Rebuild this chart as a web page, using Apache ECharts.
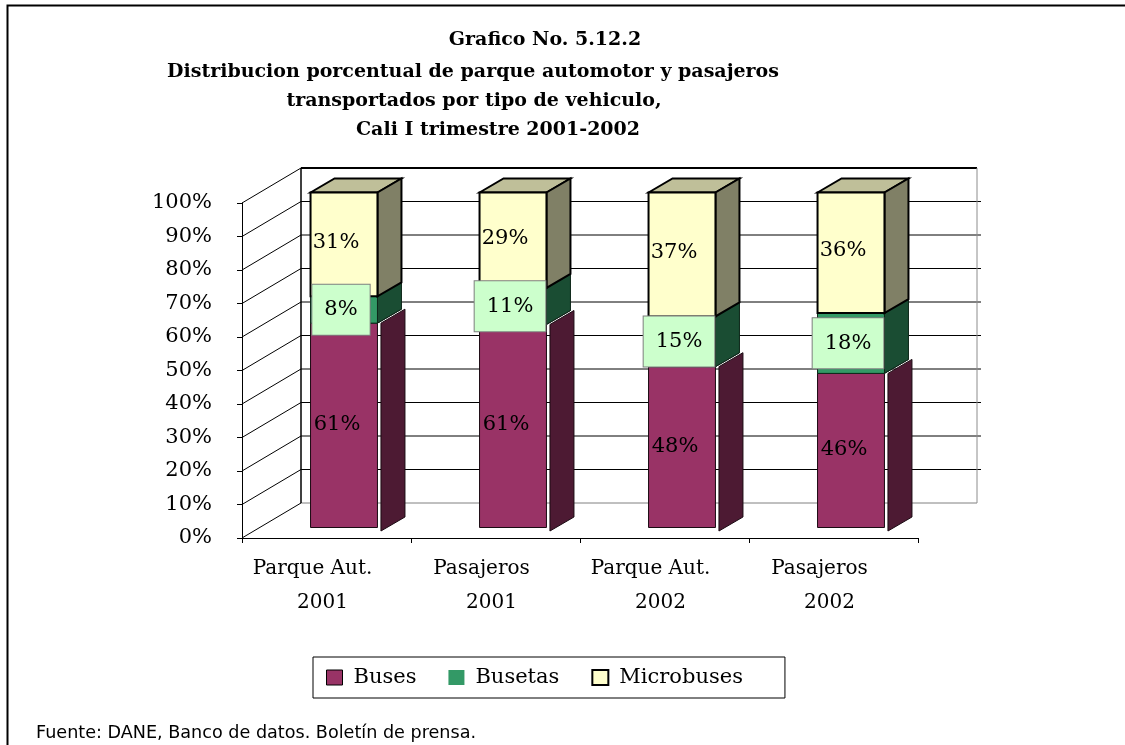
<!DOCTYPE html>
<html>
<head>
<meta charset="utf-8">
<script src="https://cdn.jsdelivr.net/npm/echarts@6/dist/echarts.min.js"></script>
<style>
  html, body { margin: 0; padding: 0; background: #ffffff; }
  #chart { width: 1125px; height: 745px; }
</style>
</head>
<body>
<div id="chart"></div>
<script>
// Category names (two lines each) and stacked shares per vehicle type, in percent
const categoryTop    = ['Parque Aut.', 'Pasajeros', 'Parque Aut.', 'Pasajeros'];
const categoryBottom = ['2001', '2001', '2002', '2002'];
const categories = categoryTop.map((t, i) => t + '\n' + categoryBottom[i]);
const buses      = [61, 60.6, 48, 46];
const busetas    = [8, 10.9, 15, 18];
const microbuses = [31, 28.5, 37, 36];
const seriesNames = ['Buses', 'Busetas', 'Microbuses'];
const pctTicks = [0, 10, 20, 30, 40, 50, 60, 70, 80, 90, 100];
const titleLines = [
  'Grafico No. 5.12.2',
  'Distribucion porcentual de parque automotor y pasajeros',
  'transportados por tipo de vehiculo,',
  'Cali I trimestre 2001-2002'
];
const sourceNote = 'Fuente: DANE, Banco de datos. Boletín de prensa.';

// Oblique projection used for the pseudo-3D box
const SERIF = '"DejaVu Serif", serif';
const WALL = [59, -35];           // floor / back wall depth
const BAR_DEPTH = [24, -14];      // depth of each column
const BAR_OFFSET = [17.5, -10.5]; // columns sit in the middle of the depth
const BAR_RATIO = 0.396;          // column width as share of the category band

const faces = {
  Buses:      { front: '#993366', side: '#4d1a33', top: '#b8668f', stroke: '#1a0a12', lw: 1, sideGap: 3.5,
                labelDx: -7, labelDy: -1, box: false },
  Busetas:    { front: '#339966', side: '#1a4d33', top: '#66b38c', stroke: '#0d2619', lw: 1, sideGap: 0,
                labelDx: -3, labelDy: 0, box: true },
  Microbuses: { front: '#ffffcc', side: '#808066', top: '#bfbf99', stroke: '#000000', lw: 2, sideGap: 0,
                labelDx: -8, labelDy: -2, box: false }
};

// Stack the segments: [category, bottom, top, value]
function stackData() {
  const lists = [buses, busetas, microbuses];
  const out = lists.map(() => []);
  categories.forEach((c, i) => {
    let base = 0;
    lists.forEach((arr, s) => {
      out[s].push([i, base, base + arr[i], arr[i]]);
      base += arr[i];
    });
  });
  return out;
}
const stacked = stackData();

function barRenderer(face) {
  return function (params, api) {
    const i = api.value(0), lo = api.value(1), hi = api.value(2), v = api.value(3);
    const p0 = api.coord([i, lo]);
    const p1 = api.coord([i, hi]);
    const w = api.size([1, 0])[0] * BAR_RATIO;
    const x = p0[0] - w / 2 + BAR_OFFSET[0];
    const yb = p0[1] + BAR_OFFSET[1];
    const yt = p1[1] + BAR_OFFSET[1];
    const dx = BAR_DEPTH[0], dy = BAR_DEPTH[1];
    const g = face.sideGap;
    const strokeStyle = { stroke: face.stroke, lineWidth: face.lw, lineJoin: 'miter' };
    const label = {
      type: 'text',
      z2: 100,
      style: Object.assign({
        text: Math.round(v) + '%',
        x: x + w / 2 + face.labelDx,
        y: (yt + yb) / 2 + face.labelDy,
        align: 'center',
        verticalAlign: 'middle',
        font: '21px ' + SERIF,
        fill: '#000000'
      }, face.box ? {
        backgroundColor: '#ccffcc',
        borderColor: '#7f7f7f',
        borderWidth: 1,
        padding: [15, 12, 14, 12]
      } : {})
    };
    return {
      type: 'group',
      children: [
        { type: 'polygon', shape: { points: [[x, yt], [x + dx, yt + dy], [x + w + dx, yt + dy], [x + w, yt]] },
          style: Object.assign({ fill: face.top }, strokeStyle) },
        { type: 'polygon', shape: { points: [[x + w + g, yt], [x + w + g + dx, yt + dy], [x + w + g + dx, yb + dy + g], [x + w + g, yb + g]] },
          style: Object.assign({ fill: face.side }, strokeStyle) },
        { type: 'rect', shape: { x: x, y: yt, width: w, height: yb - yt },
          style: Object.assign({ fill: face.front }, strokeStyle) },
        label
      ]
    };
  };
}

// Back wall grid lines and left wall diagonals, one per axis tick
function wallGridRenderer(params, api) {
  const v = api.value(1);
  const n = categories.length;
  const band = api.size([1, 0])[0];
  const xl = api.coord([0, v])[0] - band / 2;
  const xr = api.coord([n - 1, v])[0] + band / 2;
  const y = api.coord([0, v])[1];
  const isTop = v === pctTicks[pctTicks.length - 1];
  const isFloor = v === pctTicks[0];
  return {
    type: 'group',
    children: [
      { type: 'line', shape: { x1: xl + WALL[0], y1: y + WALL[1], x2: xr + WALL[0] + (isTop || isFloor ? 0 : 4), y2: y + WALL[1] },
        style: { stroke: isFloor ? '#808080' : '#000000', lineWidth: isTop ? 2 : 1 } },
      { type: 'line', shape: { x1: xl, y1: y, x2: xl + WALL[0], y2: y + WALL[1] },
        style: { stroke: '#000000', lineWidth: 1 } }
    ]
  };
}

// Vertical edges of the back wall
function wallFrameRenderer(params, api) {
  const n = categories.length;
  const band = api.size([1, 0])[0];
  const lo = pctTicks[0], hi = pctTicks[pctTicks.length - 1];
  const xl = api.coord([0, lo])[0] - band / 2 + WALL[0];
  const xr = api.coord([n - 1, lo])[0] + band / 2 + WALL[0];
  const yb = api.coord([0, lo])[1] + WALL[1];
  const yt = api.coord([0, hi])[1] + WALL[1];
  return {
    type: 'group',
    children: [
      { type: 'line', shape: { x1: xl, y1: yt, x2: xl, y2: yb }, style: { stroke: '#000000', lineWidth: 1.5 } },
      { type: 'line', shape: { x1: xr, y1: yt, x2: xr, y2: yb }, style: { stroke: '#8c8c8c', lineWidth: 1 } }
    ]
  };
}

const chart = echarts.init(document.getElementById('chart'), null, { renderer: 'canvas' });

const titleY = [40, 72, 101, 130];
const titleX = [545, 473, 474, 498];

const option = {
  backgroundColor: '#ffffff',
  animation: false,
  grid: { left: 242, right: 207, top: 203, bottom: 207, containLabel: false },
  xAxis: {
    type: 'category',
    data: categories,
    boundaryGap: true,
    axisLine: { show: true, lineStyle: { color: '#000000', width: 1 } },
    axisTick: { show: true, interval: 0, length: 5, lineStyle: { color: '#000000' } },
    axisLabel: {
      interval: 0, hideOverlap: false,
      color: '#000000', fontFamily: SERIF, fontSize: 20, lineHeight: 34, margin: 14,
      formatter: function (value) {
        const parts = value.split('\n');
        return '{a|' + parts[0] + '}\n{b|' + parts[1] + '}';
      },
      rich: {
        a: { color: '#000000', fontFamily: SERIF, fontSize: 20, lineHeight: 34, padding: [0, 28, 0, 0] },
        b: { color: '#000000', fontFamily: SERIF, fontSize: 20, lineHeight: 34, padding: [0, 8, 0, 0] }
      }
    },
    splitLine: { show: false }
  },
  yAxis: {
    type: 'value',
    min: 0, max: 100, interval: 10,
    axisLine: { show: true, lineStyle: { color: '#000000', width: 1 } },
    axisTick: { show: true, length: 5, lineStyle: { color: '#000000' } },
    axisLabel: { formatter: '{value}%', color: '#000000', fontFamily: SERIF, fontSize: 21, margin: 30 },
    splitLine: { show: false }
  },
  legend: {
    left: 313, top: 657,
    orient: 'horizontal',
    padding: [10, 42, 10, 13],
    borderColor: '#000000', borderWidth: 1,
    itemWidth: 16, itemHeight: 15, itemGap: 32,
    selectedMode: false,
    textStyle: { fontFamily: SERIF, fontSize: 21, color: '#000000', padding: [0, 0, 0, 6] },
    data: [
      { name: seriesNames[0], icon: 'rect', itemStyle: { color: faces.Buses.front, borderColor: '#000000', borderWidth: 1 } },
      { name: seriesNames[1], icon: 'rect', itemStyle: { color: faces.Busetas.front, borderWidth: 0 } },
      { name: seriesNames[2], icon: 'rect', itemStyle: { color: faces.Microbuses.front, borderColor: '#000000', borderWidth: 2 } }
    ]
  },
  graphic: {
    elements: [
      { type: 'polyline', silent: true,
        shape: { points: [[7.5, 745], [7.5, 5.5], [1125, 5.5]] },
        style: { stroke: '#000000', lineWidth: 2, fill: null } }
    ].concat(titleLines.map((t, k) => ({
      type: 'text', silent: true,
      style: { text: t, x: titleX[k], y: titleY[k], align: 'center', verticalAlign: 'middle',
               textAlign: 'center', textVerticalAlign: 'middle',
               font: 'bold 19px ' + SERIF, fill: '#000000' }
    }))).concat([
      { type: 'text', silent: true,
        style: { text: sourceNote, x: 36, y: 733, align: 'left', verticalAlign: 'middle',
                 textAlign: 'left', textVerticalAlign: 'middle',
                 font: '17.6px "DejaVu Sans", sans-serif', fill: '#000000' } }
    ])
  },
  series: [
    { type: 'custom', name: '_wallgrid', z: 1, silent: true, clip: false,
      renderItem: wallGridRenderer, encode: { x: 0, y: 1 },
      data: pctTicks.map(v => [0, v]) },
    { type: 'custom', name: '_wallframe', z: 1, silent: true, clip: false,
      renderItem: wallFrameRenderer, encode: { x: 0, y: 1 },
      data: [[0, 0]] }
  ].concat(seriesNames.map((name, s) => ({
    type: 'custom',
    name: name,
    z: 3,
    clip: false,
    itemStyle: { color: faces[name].front },
    renderItem: barRenderer(faces[name]),
    encode: { x: 0, y: [1, 2] },
    data: stacked[s]
  })))
};

chart.setOption(option);
</script>
</body>
</html>
